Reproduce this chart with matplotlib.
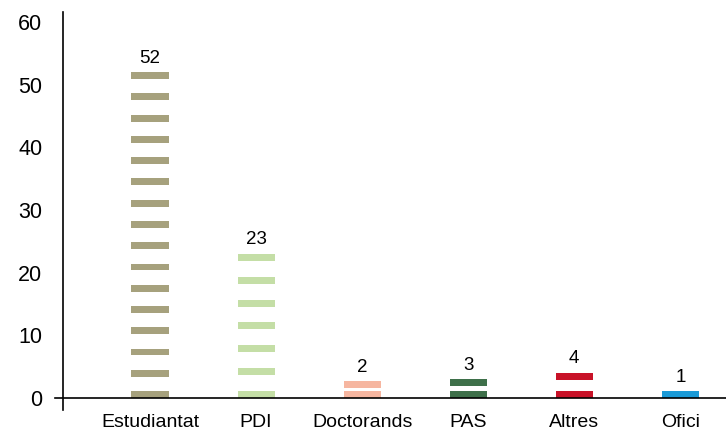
import numpy as np
import matplotlib
matplotlib.use('Agg')
import matplotlib.pyplot as plt

plt.rcParams['font.family'] = ['Liberation Sans', 'DejaVu Sans']

# data
categories = ['Estudiantat', 'PDI', 'Doctorands', 'PAS', 'Altres', 'Ofici']
values = [52, 23, 2, 3, 4, 1]

# style
colors = ['#a6a17d', '#c4dea6', '#f6b6a0', '#3e704a', '#c81228', '#1a9ad7']
n_stripes = [16, 7, 2, 2, 2, 1]
stripe_h = 1.1
bar_w = 0.35

fig = plt.figure(figsize=(7.26, 4.32), dpi=100)
ax = fig.add_axes([63/726, 22/432, 1 - 63/726, 398/432])

x = np.arange(len(categories))
for i in range(len(categories)):
    n = n_stripes[i]
    if n > 1:
        gap = max((values[i] - n*stripe_h)/(n - 1), 0.5)
    else:
        gap = 0
    bottoms = [k*(stripe_h + gap) for k in range(n)]
    ax.bar([x[i]]*n, [stripe_h]*n, bottom=bottoms, width=bar_w,
           color=colors[i], linewidth=0)
    top = bottoms[-1] + stripe_h
    ax.annotate(str(values[i]), (x[i], top), xytext=(0, 4),
                textcoords='offset points', ha='center', va='bottom',
                fontsize=13.5)

ax.set_xlim(-0.82, 5.43)
ax.set_ylim(-1.915, 61.6)
ax.set_yticks(range(0, 61, 10))
ax.set_xticks(x)
ax.set_xticklabels(categories, fontsize=14)
ax.tick_params(axis='y', length=0, pad=15, labelsize=15.5)
ax.tick_params(axis='x', length=0, pad=3)

for s in ['top', 'right', 'bottom']:
    ax.spines[s].set_visible(False)
ax.spines['left'].set_linewidth(1.2)

ax.plot([-0.012, 1.0], [0, 0], transform=ax.get_yaxis_transform(),
        color='black', lw=1.2, clip_on=False)

fig.savefig('out.png', dpi=100)
